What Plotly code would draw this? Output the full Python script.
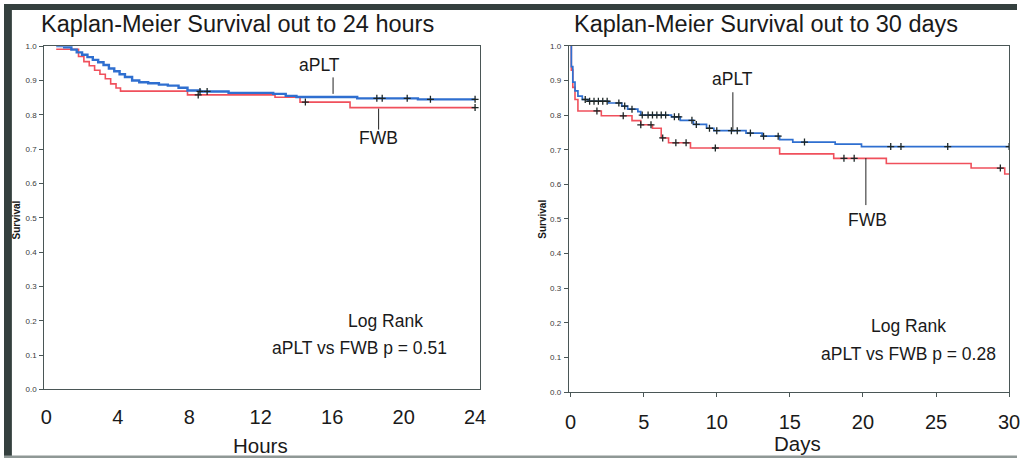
import numpy as np
import plotly.graph_objects as go

W, H = 1028, 463

# ---------------- data: 24 hours panel ----------------
hrs_aplt_t = [0.55, 1.0, 1.4, 1.7, 2.0, 2.3, 2.6, 2.9, 3.2, 3.5, 3.8, 4.1, 4.4, 4.8, 5.2,
              5.7, 6.3, 6.8, 7.4, 7.9, 8.6, 10.2, 12.7, 13.4, 14.0, 17.4, 20.8, 24.0]
hrs_aplt_s = [1.0, 0.997, 0.99, 0.982, 0.975, 0.968, 0.96, 0.953, 0.945, 0.935, 0.927,
              0.918, 0.91, 0.9, 0.895, 0.892, 0.888, 0.885, 0.879, 0.871, 0.868, 0.864,
              0.861, 0.855, 0.852, 0.848, 0.845, 0.845]
hrs_fwb_t = [0.55, 1.8, 2.1, 2.4, 2.7, 3.0, 3.3, 3.6, 3.9, 4.15, 7.9, 12.8, 14.2, 17.0, 24.0]
hrs_fwb_s = [0.991, 0.97, 0.955, 0.943, 0.93, 0.918, 0.905, 0.89, 0.878, 0.869, 0.858,
             0.851, 0.837, 0.821, 0.821]
hrs_aplt_cens = [8.6, 9.0, 18.5, 18.8, 20.2, 21.5, 24.0]
hrs_fwb_cens = [8.5, 14.5, 24.0]

# ---------------- data: 30 days panel ----------------
day_aplt_t = [0, 0.05, 0.15, 0.3, 0.5, 0.8, 1.2, 2.6, 3.5, 3.9, 4.6, 4.8, 6.9, 7.5, 8.4,
              9.3, 9.8, 12.0, 13.1, 14.3, 15.2, 18.1, 19.9, 30.0]
day_aplt_s = [1.0, 0.94, 0.895, 0.87, 0.855, 0.845, 0.84, 0.835, 0.826, 0.817, 0.81, 0.80,
              0.795, 0.785, 0.773, 0.762, 0.755, 0.748, 0.739, 0.729, 0.722, 0.716, 0.709,
              0.709]
day_fwb_t = [0, 0.05, 0.15, 0.3, 0.5, 2.1, 4.2, 4.8, 5.6, 6.2, 6.7, 8.2, 14.3, 18.0, 21.6,
             27.4, 29.7, 30.0]
day_fwb_s = [1.0, 0.93, 0.88, 0.845, 0.812, 0.798, 0.784, 0.772, 0.762, 0.734, 0.72, 0.705,
             0.688, 0.675, 0.66, 0.647, 0.63, 0.63]
day_aplt_cens = [1.0, 1.3, 1.6, 1.9, 2.2, 2.5, 3.3, 3.7, 4.2, 4.9, 5.3, 5.6, 5.9, 6.2, 6.5,
                 7.1, 7.4, 8.3, 8.6, 9.5, 10.0, 11.0, 11.4, 12.3, 13.2, 14.2, 16.0, 21.9,
                 22.6, 25.8, 30.0]
day_fwb_cens = [1.8, 3.6, 4.8, 5.5, 6.3, 7.2, 7.9, 9.9, 18.7, 19.4, 29.4]

hrs_ticks = [0, 4, 8, 12, 16, 20, 24]
day_ticks = [0, 5, 10, 15, 20, 25, 30]
surv_ticks = [round(i / 10, 1) for i in range(11)]

BLUE = "#2f6fd0"
RED = "#f0505c"
CENS = "#1c2626"
FONT = "Arial, Liberation Sans, sans-serif"


def step_at(times, surv, t):
    times = np.asarray(times)
    idx = np.searchsorted(times, t, side="right") - 1
    idx = np.clip(idx, 0, len(surv) - 1)
    return [surv[i] for i in np.atleast_1d(idx)]


def px(x):
    return x / W


def py(y):
    return 1 - y / H


fig = go.Figure()

panels = [
    ("x", "y", hrs_aplt_t, hrs_aplt_s, hrs_fwb_t, hrs_fwb_s, hrs_aplt_cens, hrs_fwb_cens, 2.4),
    ("x2", "y2", day_aplt_t, day_aplt_s, day_fwb_t, day_fwb_s, day_aplt_cens, day_fwb_cens, 1.7),
]
for xa, ya, at, as_, ft, fs, ac, fc, bw in panels:
    fig.add_trace(go.Scatter(x=ft, y=fs, mode="lines", line=dict(color=RED, width=1.6, shape="hv"),
                             xaxis=xa, yaxis=ya, showlegend=False, name="FWB"))
    fig.add_trace(go.Scatter(x=at, y=as_, mode="lines", line=dict(color=BLUE, width=bw, shape="hv"),
                             xaxis=xa, yaxis=ya, showlegend=False, name="aPLT"))
    fig.add_trace(go.Scatter(x=fc, y=step_at(ft, fs, fc), mode="markers",
                             marker=dict(symbol="cross-thin", size=5, line=dict(color=CENS, width=1.3)),
                             xaxis=xa, yaxis=ya, showlegend=False))
    fig.add_trace(go.Scatter(x=ac, y=step_at(at, as_, ac), mode="markers",
                             marker=dict(symbol="cross-thin", size=5, line=dict(color=CENS, width=1.3)),
                             xaxis=xa, yaxis=ya, showlegend=False))

axis_line = "#4a5656"
yax = dict(range=[0, 1], tickvals=surv_ticks, ticktext=[f"{v:.1f}" for v in surv_ticks],
           ticks="outside", ticklen=4, tickcolor=axis_line, tickfont=dict(size=8, color="#3a3a3a", family=FONT),
           showgrid=False, zeroline=False, showline=True, linecolor=axis_line, linewidth=1.3,
           mirror=True, ticklabelstandoff=1)

fig.update_layout(
    width=W, height=H, margin=dict(l=0, r=0, t=0, b=0),
    paper_bgcolor="white", plot_bgcolor="white",
    font=dict(family=FONT, color="#1a1a1a"),
    xaxis=dict(domain=[px(41), px(483.5)], range=[-0.11, 24.3], tickvals=hrs_ticks,
               ticks="", tickfont=dict(size=20, family=FONT, color="#1a1a1a"),
               showgrid=False, zeroline=False, showline=True, linecolor=axis_line, linewidth=1.3,
               mirror=True, ticklabelstandoff=9, anchor="y"),
    yaxis=dict(domain=[py(393), py(43)], anchor="x", **yax),
    xaxis2=dict(domain=[px(573.3), px(1020)], range=[-0.115, 30.0], tickvals=day_ticks,
                ticks="outside", ticklen=4, tickcolor=axis_line,
                tickfont=dict(size=20, family=FONT, color="#1a1a1a"),
                showgrid=False, zeroline=False, showline=True, linecolor=axis_line, linewidth=1.3,
                mirror=True, ticklabelstandoff=8, anchor="y2"),
    yaxis2=dict(domain=[py(395.7), py(42.7)], anchor="x2", **yax),
)

# dark scan frame
fig.add_shape(type="rect", xref="paper", yref="paper", x0=0, x1=px(8), y0=0, y1=1,
              fillcolor="#34403e", line_width=0, layer="below")
fig.add_shape(type="rect", xref="paper", yref="paper", x0=0, x1=1, y0=py(6), y1=1,
              fillcolor="#34403e", line_width=0, layer="below")
fig.add_shape(type="rect", xref="paper", yref="paper", x0=0, x1=1, y0=0, y1=py(460.5),
              fillcolor="#8f9896", line_width=0, layer="below")

# leader lines
leaders = [("x", "y", 16.05, 0.909, 0.861), ("x", "y", 18.6, 0.818, 0.757),
           ("x2", "y2", 11.1, 0.866, 0.753), ("x2", "y2", 20.2, 0.676, 0.54)]
for xr, yr, xv, y0, y1 in leaders:
    fig.add_shape(type="line", xref=xr, yref=yr, x0=xv, x1=xv, y0=y0, y1=y1,
                  line=dict(color="#222", width=1))

ann = [
    ("paper", "paper", px(237), py(20), "Kaplan-Meier Survival out to 24 hours", 23.5),
    ("paper", "paper", px(773), py(20), "Kaplan-Meier Survival out to 30 days", 23.5),
    ("paper", "paper", px(260), py(450), "Hours", 20.5),
    ("paper", "paper", px(805), py(448), "Days", 20.5),
    ("x", "y", 15.3, 0.945, "aPLT", 17.5),
    ("x", "y", 18.6, 0.731, "FWB", 17.5),
    ("x2", "y2", 11.1, 0.903, "aPLT", 17.5),
    ("x2", "y2", 20.3, 0.497, "FWB", 17.5),
    ("x", "y", 19.0, 0.20, "Log Rank", 17.5),
    ("x", "y", 17.55, 0.12, "aPLT vs FWB p = 0.51", 17.5),
    ("x2", "y2", 23.1, 0.19, "Log Rank", 17.5),
    ("x2", "y2", 23.1, 0.11, "aPLT vs FWB p = 0.28", 17.5),
]
for xr, yr, xv, yv, txt, sz in ann:
    fig.add_annotation(xref=xr, yref=yr, x=xv, y=yv, text=txt, showarrow=False,
                       font=dict(size=sz, family=FONT, color="#1a1a1a"),
                       xanchor="center", yanchor="middle")

for xc in (13, 547):
    fig.add_annotation(xref="paper", yref="paper", x=px(xc), y=py(220), text="<b>Survival</b>",
                       textangle=-90, showarrow=False, font=dict(size=10, family=FONT, color="#1a1a1a"),
                       xanchor="center", yanchor="middle")

fig.write_html("out.html")
